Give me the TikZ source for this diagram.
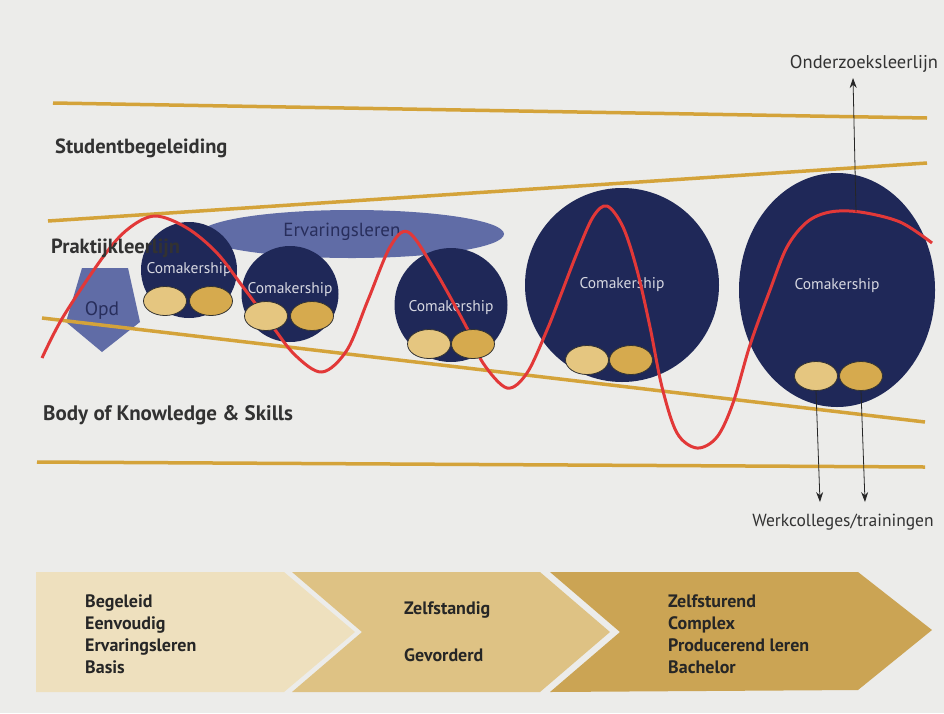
\documentclass[tikz,border=0pt]{standalone}
\usepackage{fontspec}
\setmainfont{PT Sans}
\usepackage{tikz}
\usetikzlibrary{positioning, shapes.geometric, arrows.meta}

\definecolor{paper}{RGB}{236,236,234}
\definecolor{bandgold}{RGB}{212,163,58}
\definecolor{navy}{RGB}{31,40,88}
\definecolor{lightnavy}{RGB}{96,108,166}
\definecolor{darknavy}{RGB}{40,46,92}
\definecolor{curvered}{RGB}{226,56,56}
\definecolor{eilight}{RGB}{229,198,128}
\definecolor{eidark}{RGB}{214,170,78}
\definecolor{labelgray}{RGB}{50,50,50}
\definecolor{stageone}{RGB}{238,224,190}
\definecolor{stagetwo}{RGB}{222,194,132}
\definecolor{stagethree}{RGB}{203,164,84}

\tikzstyle{band-line}=[line width=3.5pt, draw=bandgold]
\tikzstyle{band-name}=[anchor=west, inner sep=0pt, font=\fontsize{20.5}{22}\selectfont\bfseries, text=labelgray]
\tikzstyle{comaker}=[ellipse, fill=navy, inner sep=0pt]
\tikzstyle{comaker-text}=[inner sep=0pt, font=\fontsize{15.5}{17}\selectfont, text=white!82!navy]
\tikzstyle{werkvorm}=[ellipse, draw=black!80, line width=0.8pt, minimum width=43pt, minimum height=29pt, inner sep=0pt]
\tikzstyle{side-label}=[inner sep=0pt, font=\fontsize{17.5}{19}\selectfont, text=labelgray]
\tikzstyle{stage-text}=[anchor=west, inner sep=0pt, align=left, font=\fontsize{18}{22}\selectfont\bfseries, text=black!85]
\tikzstyle{to-vorm}=[-{Stealth[length=10pt,width=7pt]}, line width=0.8pt, black!85]

\begin{document}
\begin{tikzpicture}[x=1pt, y=-1pt]
    \useasboundingbox (0,0) rectangle (944,713);
    \fill[paper] (0,0) rectangle (944,713);

    \node (erv) [ellipse, fill=lightnavy, inner sep=0pt, minimum width=304pt, minimum height=48pt,
        label={[xshift=-10pt, yshift=2pt, inner sep=0pt, font=\fontsize{19}{21}\selectfont, text=darknavy]center:Ervaringsleren}] at (352,234) {};

    \fill[lightnavy] (82,268) -- (128,268) -- (140,322) -- (102,352) -- (66,322) -- cycle;
    \node (opd) [inner sep=0pt, font=\fontsize{19.5}{21}\selectfont, text=darknavy] at (102,310) {Opd};

    \node (co1) [comaker, minimum width=96pt, minimum height=96pt, label={[comaker-text]center:Comakership}] at (189,270) {};
    \node (co2) [comaker, minimum width=97pt, minimum height=96pt, label={[comaker-text, yshift=4pt]center:Comakership}] at (290,294) {};
    \node (co3) [comaker, minimum width=113pt, minimum height=114pt, label={[comaker-text, yshift=-3pt]center:Comakership}] at (451,305) {};
    \node (co4) [comaker, minimum width=194pt, minimum height=194pt, label={[comaker-text]center:Comakership}] at (622,285) {};
    \node (co5) [comaker, minimum width=196pt, minimum height=234pt, label={[comaker-text, yshift=4pt]center:Comakership}] at (837,290) {};

    \draw[band-line] (53,103) -- (927,118);
    \draw[band-line] (48,221) -- (927,163);
    \draw[band-line] (42,318) -- (925,422);
    \draw[band-line] (37,462) -- (925,467);

    \draw[curvered, line width=3pt, line join=round] plot[smooth, tension=0.55] coordinates {
        (42,358) (63,317) (103,257) (128,229) (155,216) (187,228) (217,253) (243,287) (270,323)
        (295,355) (322,372) (347,350) (368,300) (390,247) (408,232) (433,267) (468,330) (483,363)
        (507,388) (527,373) (547,330) (560,297) (577,253) (593,217) (607,206) (623,227) (637,270)
        (650,327) (662,387) (677,433) (697,448) (717,437) (733,403) (750,345) (770,290) (787,247)
        (807,222) (830,212) (860,212) (900,222) (932,243)};

    \node (vorm1a) [werkvorm, fill=eilight] at (165,301) {};
    \node (vorm1b) [werkvorm, fill=eidark] at (211,301) {};
    \node (vorm2a) [werkvorm, fill=eilight] at (266,316) {};
    \node (vorm2b) [werkvorm, fill=eidark] at (312,316) {};
    \node (vorm3a) [werkvorm, fill=eilight] at (429,344) {};
    \node (vorm3b) [werkvorm, fill=eidark] at (473,344) {};
    \node (vorm4a) [werkvorm, fill=eilight] at (587,360) {};
    \node (vorm4b) [werkvorm, fill=eidark] at (631,360) {};
    \node (vorm5a) [werkvorm, fill=eilight] at (816,376) {};
    \node (vorm5b) [werkvorm, fill=eidark] at (861,376) {};

    \node (studbeg) [band-name] at (55,148) {Studentbegeleiding};
    \node (praktijk) [band-name] at (51,248) {Praktijkleerlijn};
    \node (bok) [band-name, font=\fontsize{21}{22}\selectfont\bfseries] at (43,415) {Body of Knowledge \& Skills};

    \node (onderzoek) [side-label, font=\fontsize{18.5}{20}\selectfont] at (864,64) {Onderzoeksleerlijn};
    \coordinate (oz-foot) at (856,212);
    \coordinate (oz-head) at (853,78);
    \draw[to-vorm] (oz-foot) -- (oz-head);

    \node (werkcol) [side-label] at (843,522) {Werkcolleges/trainingen};
    \coordinate (wc-left) at (820,502);
    \coordinate (wc-right) at (865,502);
    \draw[to-vorm] (vorm5a.south) -- (wc-left);
    \draw[to-vorm] (vorm5b.south) -- (wc-right);

    \fill[stageone] (36,572) -- (284,572) -- (355,632) -- (284,692) -- (36,692) -- cycle;
    \fill[stagetwo] (292,572) -- (540,572) -- (610,632) -- (540,692) -- (292,692) -- (362,632) -- cycle;
    \fill[stagethree] (550,572) -- (858,572) -- (932,630) -- (858,690) -- (550,692) -- (620,632) -- cycle;

    \node (stage1) [stage-text] at (85,634) {Begeleid\\Eenvoudig\\Ervaringsleren\\Basis};
    \node (stage2) [stage-text] at (404,632) {Zelfstandig\\[25pt]Gevorderd};
    \node (stage3) [stage-text] at (668,634) {Zelfsturend\\Complex\\Producerend leren\\Bachelor};
\end{tikzpicture}
\end{document}
